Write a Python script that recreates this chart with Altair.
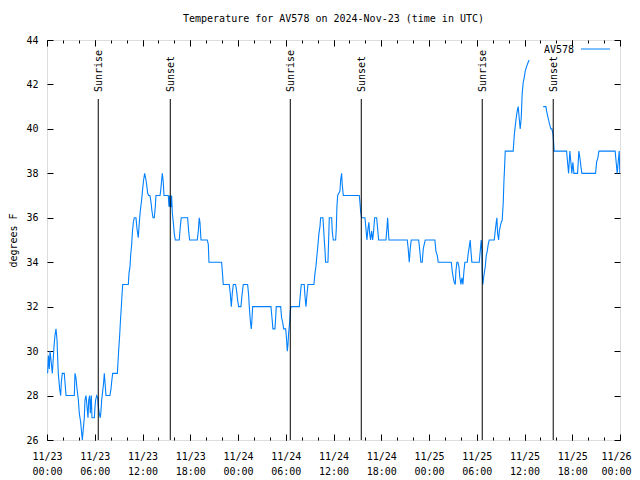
import altair as alt
import pandas as pd

# ---------------- data ----------------
hours = [0.08, 0.17, 0.29, 0.38, 0.50, 0.67, 0.88, 1.00, 1.13, 1.26, 1.34, 1.42, 1.59, 1.72, 1.80, 1.92,
         2.17, 2.26, 2.39, 3.43, 3.52, 3.64, 3.77, 3.94, 4.06, 4.23, 4.36, 4.44, 4.56, 4.69, 4.77, 4.90,
         5.03, 5.15, 5.24, 5.36, 5.44, 5.57, 5.65, 5.95, 6.03, 6.11, 6.24, 6.37, 6.45, 6.57, 6.70, 6.78,
         6.87, 7.00, 7.12, 7.20, 7.29, 7.41, 7.91, 8.04, 8.12, 8.25, 8.84, 8.92, 9.00, 9.13, 9.25, 9.34,
         9.42, 9.51, 10.22, 10.30, 10.43, 10.51, 10.64, 10.72, 10.85, 10.97, 11.18, 11.31, 11.47, 11.60,
         11.72, 11.89, 12.02, 12.14, 12.27, 12.44, 12.52, 12.65, 12.77, 12.94, 13.07, 13.19, 13.32, 13.48,
         13.61, 13.69, 14.20, 14.28, 14.41, 14.49, 14.61, 14.70, 15.24, 15.33, 15.41, 15.49, 15.58, 15.66,
         15.75, 15.87, 15.99, 16.12, 16.62, 16.75, 16.87, 17.67, 17.80, 17.92, 18.88, 19.01, 19.13, 19.22,
         19.35, 20.14, 20.27, 20.35, 21.94, 22.03, 22.15, 22.90, 23.03, 23.16, 23.28, 23.41, 23.70, 23.83,
         23.95, 24.08, 24.37, 24.50, 24.66, 25.21, 25.34, 25.42, 25.54, 25.67, 25.75, 25.84, 28.14, 28.27,
         28.39, 28.64, 28.73, 28.81, 29.36, 29.48, 29.61, 29.74, 29.99, 30.11, 30.19, 30.28, 30.36, 30.49,
         30.57, 30.65, 31.70, 31.82, 31.95, 32.32, 32.41, 32.54, 32.66, 32.79, 33.54, 33.67, 33.79, 33.92,
         34.05, 34.17, 34.30, 34.38, 34.67, 34.76, 34.84, 34.92, 35.01, 35.30, 35.39, 35.47, 35.77, 35.84,
         35.97, 36.27, 36.35, 36.43, 36.52, 36.81, 36.90, 37.02, 37.10, 37.23, 39.24, 39.32, 39.41, 39.53,
         39.95, 40.08, 40.20, 40.33, 40.45, 40.54, 40.66, 40.79, 40.92, 41.04, 41.17, 41.42, 41.55, 41.67,
         42.59, 42.71, 42.80, 42.88, 42.96, 45.27, 45.39, 45.52, 45.64, 45.77, 46.70, 46.82, 46.98, 47.15,
         47.28, 47.40, 47.53, 48.74, 48.87, 49.04, 49.16, 50.80, 50.92, 51.05, 51.17, 51.30, 51.38, 51.51,
         51.63, 51.76, 51.88, 52.01, 52.14, 52.26, 52.39, 52.51, 52.81, 52.93, 53.06, 53.18, 53.27, 53.39,
         54.31, 54.44, 54.56, 54.65, 54.69, 54.77, 54.86, 54.94, 55.07, 55.19, 55.32, 55.44, 55.57, 56.20,
         56.32, 56.45, 56.53, 56.62, 56.75, 56.83, 56.95, 57.08, 57.20, 57.33, 57.41, 57.50, 57.58, 58.58,
         58.71, 58.83, 58.96, 59.08, 59.21, 59.33, 59.46, 59.59, 59.71, 59.84, 59.96, 60.09, 60.26, 60.46,
         60.59,
         62.35, 62.69, 62.78, 62.90, 63.03, 63.15, 63.32, 63.44, 63.57, 63.66, 63.73, 65.29, 65.41, 65.54,
         65.62, 65.70, 65.83, 65.95, 66.08, 66.21, 66.67, 66.75, 66.83, 66.96, 67.09, 67.21, 68.93, 69.06,
         69.22, 69.35, 71.39, 71.52, 71.65, 71.77, 71.90, 71.98]

temps = [29, 29.8, 29.2, 30, 29.6, 29, 30.2, 30.7, 31, 30.5, 29.7, 29, 28.3, 28, 28.6, 29,
         29, 28.6, 28, 28, 29, 28.8, 28.3, 27.8, 27.2, 26.8, 26.3, 26, 26.5, 27, 27.8, 28,
         27.5, 27, 27.8, 28, 27.2, 28, 27, 27, 27.5, 27.8, 28, 27.9, 27.5, 27.2, 27, 27.3,
         27.8, 28.2, 28.6, 29, 28.6, 28, 28, 28.3, 28.6, 29, 29, 29.5, 30, 30.7, 31.5, 32,
         32.5, 33, 33, 33.5, 33.8, 34.3, 34.8, 35.3, 35.8, 36, 36, 35.5, 35.1, 35.8,
         36.3, 36.8, 37.3, 37.7, 38, 37.7, 37.5, 37.1, 37, 37, 36.7, 36.3, 36, 36,
         36.5, 37, 37, 37.2, 37.7, 38, 37.6, 37, 37, 36.5, 37, 36.5, 36.5, 37,
         36.2, 35.8, 35.3, 35, 35, 35.6, 36, 36, 35.4, 35, 35, 35.4, 36, 35.8,
         35, 35, 34.8, 34, 34, 33.6, 33, 33, 32.6, 32, 32.6, 33, 33, 32.7,
         32.3, 32, 32, 32.5, 33, 33, 32.5, 32, 31.4, 31, 31.4, 32, 32, 31.5,
         31, 31, 31.5, 32, 32, 31.5, 31.3, 31, 31, 30.5, 30, 30.3, 30.8, 31.3,
         31.8, 32, 32, 32.5, 33, 33, 32.5, 32, 32.5, 33, 33, 33.5, 33.8, 34.3,
         34.8, 35.3, 35.6, 36, 36, 35.5, 35, 34.6, 34, 34, 35, 36, 36, 35.4,
         35, 35, 35.5, 36.5, 37, 37.2, 37.7, 38, 37.5, 37, 37, 36.7, 36.3, 36,
         36, 35.5, 35, 35.5, 35.8, 35.3, 35, 35.4, 35, 35.4, 36, 36, 35.5, 35,
         35, 35.5, 36, 35.5, 35, 35, 34.6, 34, 34.6, 35, 35, 34.6, 34, 34,
         34.6, 34.8, 35, 35, 34.5, 34.3, 34, 34, 33.6, 33.3, 33.1, 33, 33.6, 34,
         34, 33.8, 33.3, 33, 33.3, 33, 33.6, 34, 34, 34.4, 34.7, 35, 34.5, 34,
         34, 34.5, 35, 34.5, 33.5, 33, 33.3, 33.5, 33.8, 34.3, 34.5, 34.8, 35, 35,
         35.4, 35.8, 36, 35.3, 35, 35.4, 35.6, 35.8, 35.9, 36.7, 37.6, 38.3, 39, 39,
         39.7, 40.1, 40.5, 40.8, 41, 40.5, 40, 40.5, 41.6, 42.1, 42.3, 42.6, 42.8, 43,
         43.1,
         41, 41, 40.8, 40.6, 40.4, 40.2, 40, 40, 39.8, 39.4, 39, 39, 38.5, 38,
         38.5, 39, 38.5, 38, 38.5, 38, 38, 38.5, 39, 38.7, 38.3, 38, 38, 38.5,
         38.7, 39, 39, 38.5, 38, 38.5, 39, 38]

gap_after_hour = 61  # no readings between ~60.6 h and ~62.3 h

event_hours = [6.44, 15.49, 30.57, 39.49, 54.69, 63.61]
event_labels = ["Sunrise", "Sunset", "Sunrise", "Sunset", "Sunrise", "Sunset"]

y_ticks = [26, 28, 30, 32, 34, 36, 38, 40, 42, 44]
x_major_hours = list(range(0, 73, 6))
x_minor_hours = list(range(0, 73, 2))

series_name = "AV578"
chart_title = "Temperature for AV578 on 2024-Nov-23 (time in UTC)"
y_title = "degrees F"

# ---------------- build tables ----------------
BASE = int(pd.Timestamp("2024-11-23", tz="UTC").value // 10**6)


def ms(h):
    return BASE + int(round(h * 3600000))


df = pd.DataFrame({
    "t": [ms(h) for h in hours],
    "temp": temps,
    "seg": [0 if h < gap_after_hour else 1 for h in hours],
})
ev = pd.DataFrame({"t": [ms(h) for h in event_hours], "label": event_labels})

W, H = 573, 400
FONT = "DejaVu Sans Mono"
FS = 10
BLUE = "#0080ff"

xscale = alt.Scale(type="utc", domain=[ms(0), ms(72)], nice=False)
yscale = alt.Scale(domain=[26, 44], nice=False, zero=False)

major_vals = [ms(h) for h in x_major_hours]
minor_vals = [ms(h) for h in x_minor_hours]


def tick_axis(orient, values, size):
    off = -H if orient in ("top", "bottom") else -W
    return alt.Axis(orient=orient, offset=off, values=values, labels=False, domain=False,
                    grid=False, ticks=True, tickSize=size, tickColor="black", tickWidth=1,
                    title=None)


label_x = alt.Axis(orient="bottom", values=major_vals,
                   labelExpr="[utcFormat(datum.value, '%m/%d'), utcFormat(datum.value, '%H:%M')]",
                   ticks=False, domain=False, grid=False, labelFlush=False, labelOverlap=False,
                   labelPadding=11, labelFont=FONT, labelFontSize=FS, labelColor="black",
                   labelLineHeight=15, labelBaseline="top", title=None,
                   labelOffset={"condition": {"test": f"datum.value >= {ms(72)}", "value": -4},
                                "value": 0})

label_y = alt.Axis(orient="left", values=y_ticks, ticks=False, domain=False, grid=False,
                   labelPadding=9, labelFont=FONT, labelFontSize=FS, labelColor="black",
                   labelFlush=False, labelOverlap=False,
                   title=y_title, titleFont=FONT, titleFontSize=FS, titleFontWeight="normal",
                   titleColor="black", titleAngle=270, titleX=-34, titleY=H / 2,
                   titleAlign="center", titleBaseline="middle")

line = alt.Chart(df).mark_line(color=BLUE, strokeWidth=1.1, clip=True).encode(
    x=alt.X("t:T", scale=xscale, axis=label_x),
    y=alt.Y("temp:Q", scale=yscale, axis=label_y),
    detail="seg:N",
)

rules = alt.Chart(ev).mark_rule(color="black", strokeWidth=1).encode(
    x=alt.X("t:T", scale=xscale, axis=tick_axis("top", major_vals, 6)),
    y=alt.value(59),
    y2=alt.value(H),
)

texts = alt.Chart(ev).mark_text(angle=270, align="left", baseline="middle", font=FONT,
                                fontSize=FS, color="black", dy=1).encode(
    x=alt.X("t:T", scale=xscale, axis=tick_axis("bottom", major_vals, 6)),
    y=alt.value(52),
    text="label:N",
)

ghost1 = alt.Chart(df).mark_point(opacity=0, size=1).encode(
    x=alt.X("t:T", scale=xscale, axis=tick_axis("top", minor_vals, 3)),
    y=alt.Y("temp:Q", scale=yscale, axis=tick_axis("right", y_ticks, 6)),
)

ghost2 = alt.Chart(df).mark_point(opacity=0, size=1).encode(
    x=alt.X("t:T", scale=xscale, axis=tick_axis("bottom", minor_vals, 3)),
    y=alt.Y("temp:Q", scale=yscale, axis=tick_axis("left", y_ticks, 6)),
)

legend_df = pd.DataFrame({"name": [series_name]})
legend_text = alt.Chart(legend_df).mark_text(align="right", baseline="middle", font=FONT,
                                             fontSize=FS, color="black").encode(
    x=alt.value(527), y=alt.value(9.5), text="name:N")
legend_line = alt.Chart(legend_df).mark_rule(color=BLUE, strokeWidth=1).encode(
    x=alt.value(534), x2=alt.value(563), y=alt.value(9))

chart = alt.layer(line, rules, texts, ghost1, ghost2, legend_text, legend_line).resolve_axis(
    x="independent", y="independent"
).properties(
    width=W, height=H,
    title=alt.TitleParams(text=chart_title, font=FONT, fontSize=FS, fontWeight="normal",
                          color="black", anchor="middle", offset=11),
    autosize=alt.AutoSizeParams(type="none"),
    padding={"left": 39, "top": 32, "right": 12, "bottom": 38},
).configure_view(stroke="black", strokeWidth=1).configure(background="white")

chart.save("out.html", embed_options={"renderer": "svg", "actions": False})
